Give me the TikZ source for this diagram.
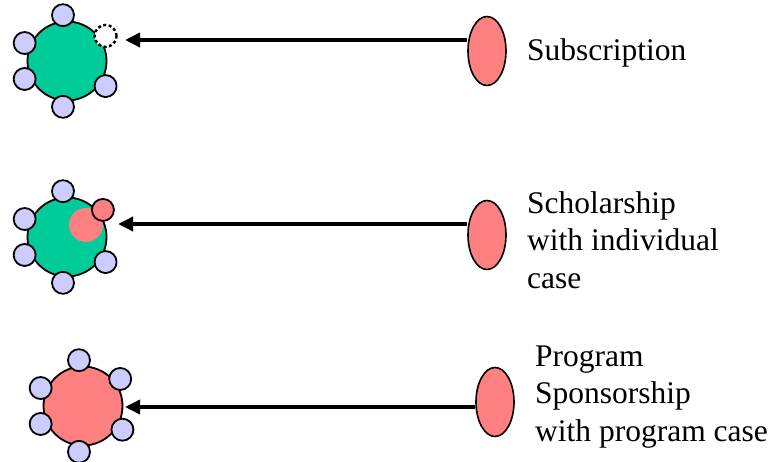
\documentclass[tikz,border=0pt]{standalone}
\usepackage{fontspec}
\setmainfont{Liberation Serif}
\usetikzlibrary{shapes.geometric,arrows.meta}
\definecolor{hubgreen}{RGB}{0,204,153}
\definecolor{satblue}{RGB}{204,204,255}
\definecolor{casered}{RGB}{255,128,128}
\begin{document}
\begin{tikzpicture}[x=1pt,y=1pt,
  hub/.style={circle,draw,line width=1.8pt,minimum size=79pt,inner sep=0pt},
  sat/.style={circle,draw,line width=1.8pt,fill=satblue,minimum size=22pt,inner sep=0pt},
  src/.style={ellipse,draw,line width=1.6pt,fill=casered,minimum width=38pt,minimum height=69pt,inner sep=0pt},
  txt/.style={anchor=base west,align=left,inner sep=0pt,font=\fontsize{31.5}{37.5}\selectfont},
  arr/.style={line width=3.5pt,-{Triangle[length=15pt,width=14pt]}}]
\useasboundingbox (0,0) rectangle (773,461);

% subscription
\node[hub,fill=hubgreen] (h1) at (67,400) {};
\foreach \a in {95,157,203,265,327}
  \node[sat] (s1-\a) at ([shift={(\a:46)}]h1) {};
\node[sat,fill=white,line width=2.4pt,dash pattern=on 3pt off 2.5pt] (d1) at ([shift={(33:46)}]h1) {};
\coordinate (t1) at (125,421);
\node[src] (e1) at (487,410) {};
\draw[arr] (e1.west |- t1) -- (t1);
\node[txt] (l1) at (527,400) {Subscription};

% scholarship
\node[hub,fill=hubgreen] (h2) at (67,224) {};
\node[circle,fill=casered,minimum size=34pt,inner sep=0pt] (c2) at (86,236) {};
\foreach \a in {95,157,203,265,327}
  \node[sat] (s2-\a) at ([shift={(\a:46)}]h2) {};
\node[sat,fill=casered] (r2) at ([shift={(37:45)}]h2) {};
\coordinate (t2) at (118,237);
\node[src] (e2) at (487,226) {};
\draw[arr] (e2.west |- t2) -- (t2);
\node[txt] (l2) at (527,173) {Scholarship\\with individual\\case};

% program sponsorship
\node[hub,fill=casered] (h3) at (83,55) {};
\foreach \a in {95,157,203,265,329,36}
  \node[sat] (s3-\a) at ([shift={(\a:46)}]h3) {};
\coordinate (t3) at (125,54);
\node[src] (e3) at (495,59) {};
\draw[arr] (e3.west |- t3) -- (t3);
\node[txt] (l3) at (535,20) {Program\\Sponsorship\\with program case};
\end{tikzpicture}
\end{document}
